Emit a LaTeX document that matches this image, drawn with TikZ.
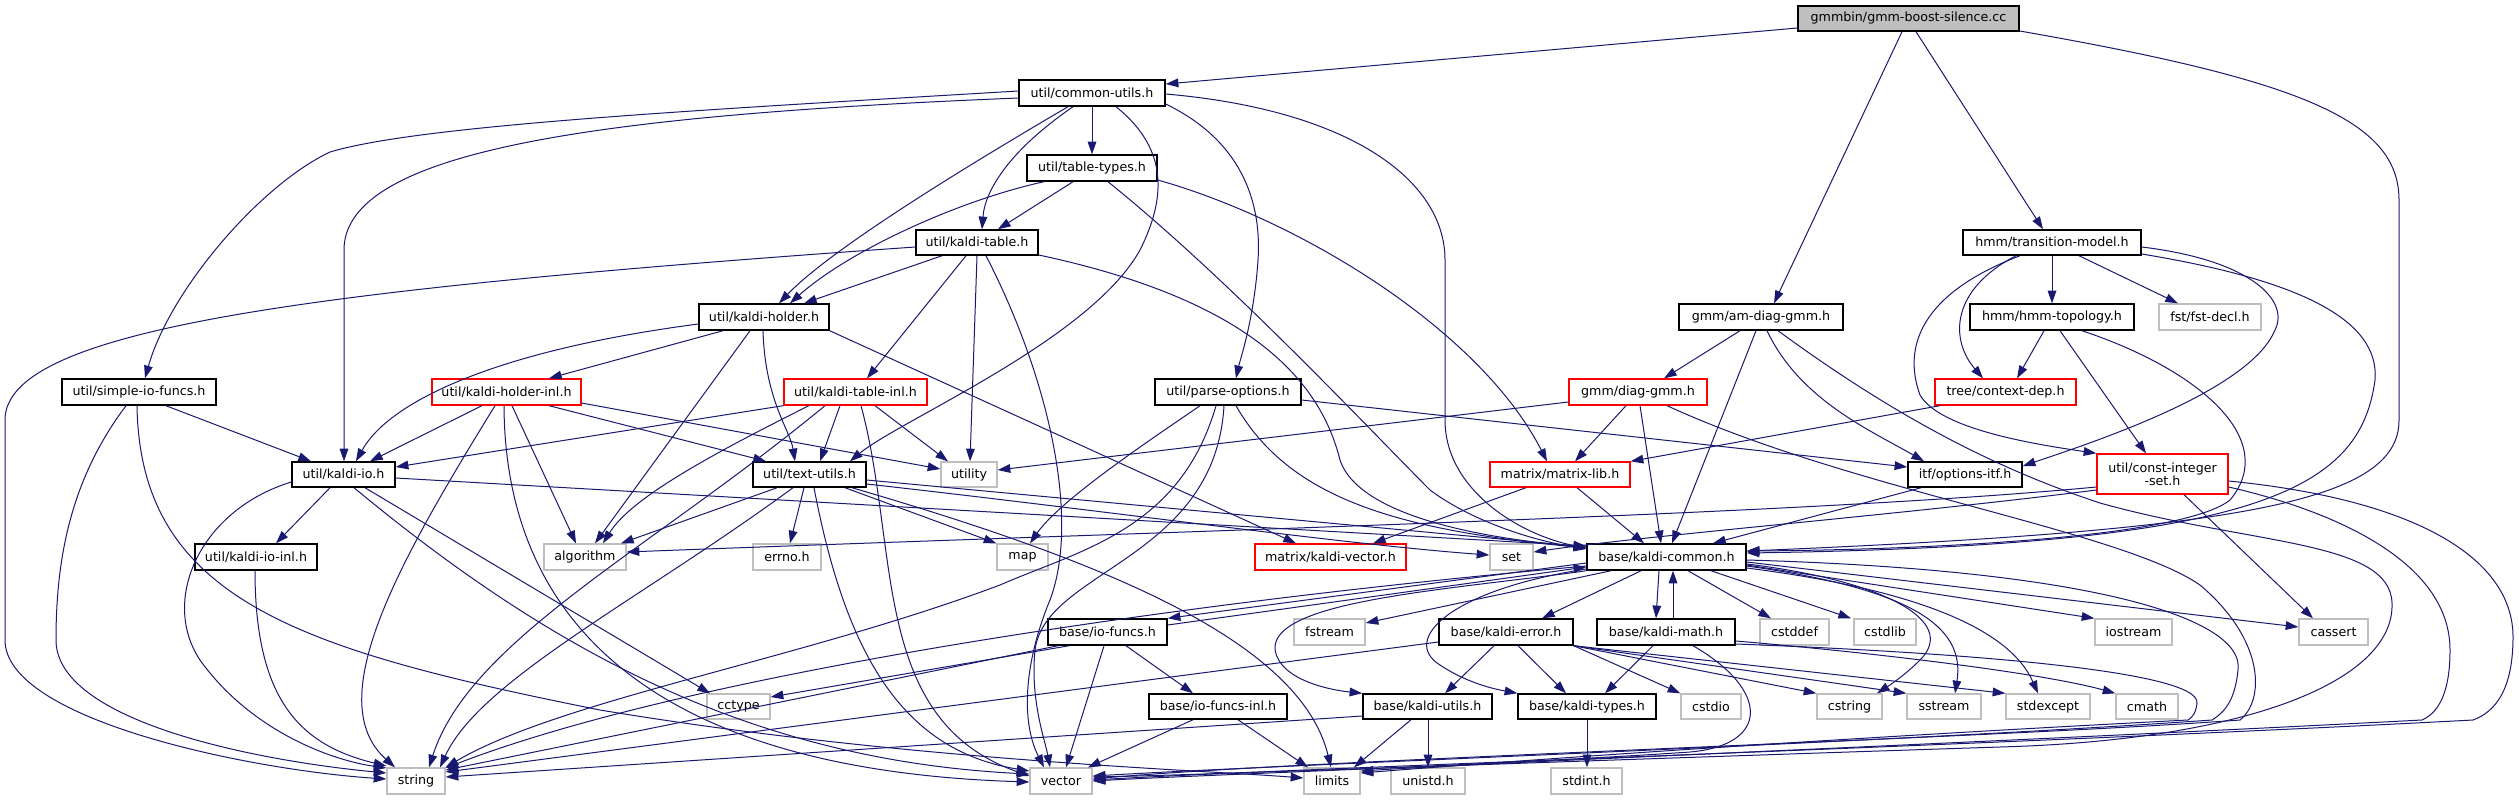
\documentclass[tikz,border=0pt]{standalone}
\usepackage{fontspec}
\setmainfont{DejaVu Sans}
\usetikzlibrary{arrows.meta}
\definecolor{edgec}{HTML}{191970}
\definecolor{sysc}{HTML}{BFBFBF}
\definecolor{rootc}{HTML}{BFBFBF}
\definecolor{truncc}{HTML}{FF0000}
\newcommand\nodefont{\fontsize{9.5}{10}\selectfont}
\newcommand\mkbox[7]{\node[#6, minimum width={(#4-#2)*0.75pt}, minimum height={(#5-#3)*0.75pt}] (#1) at ({(#2+#4)/2},{(#3+#5)/2}) {#7};}
\tikzset{
  nbase/.style={rectangle, inner sep=0pt, font=\nodefont, fill=white, align=center},
  blk/.style={nbase, draw=black, line width=1.1pt},
  root/.style={blk, fill=rootc},
  sys/.style={nbase, draw=sysc, line width=1pt},
  trunc/.style={nbase, draw=truncc, line width=1pt},
  ed/.style={draw=edgec, line width=0.75pt, -{Triangle[length=9.5pt,width=6.5pt]}}
}
\begin{document}
\begin{tikzpicture}[x=0.75pt,y=-0.75pt]
\fill[white] (0,0) rectangle (2519,800);
\useasboundingbox (0,0) rectangle (2519,800);
% nodes
\mkbox{gb}{1798}{6}{2019}{31}{root}{gmmbin/gmm-boost-silence.cc}
\mkbox{cu}{1019}{80}{1165}{106}{blk}{util/common-utils.h}
\mkbox{tt}{1027}{155}{1157}{181}{blk}{util/table-types.h}
\mkbox{kt}{916}{230}{1038}{255}{blk}{util/kaldi-table.h}
\mkbox{tm}{1963}{230}{2141}{255}{blk}{hmm/transition-model.h}
\mkbox{kh}{699}{304}{829}{330}{blk}{util/kaldi-holder.h}
\mkbox{adg}{1679}{304}{1843}{330}{blk}{gmm/am-diag-gmm.h}
\mkbox{ht}{1970}{304}{2134}{330}{blk}{hmm/hmm-topology.h}
\mkbox{fd}{2159}{304}{2261}{330}{sys}{fst/fst-decl.h}
\mkbox{sio}{62}{379}{216}{405}{blk}{util/simple-io-funcs.h}
\mkbox{khi}{432}{379}{581}{405}{trunc}{util/kaldi-holder-inl.h}
\mkbox{kti}{784}{379}{927}{405}{trunc}{util/kaldi-table-inl.h}
\mkbox{po}{1155}{379}{1301}{405}{blk}{util/parse-options.h}
\mkbox{dg}{1569}{379}{1707}{405}{trunc}{gmm/diag-gmm.h}
\mkbox{cd}{1935}{379}{2076}{405}{trunc}{tree/context-dep.h}
\mkbox{kio}{292}{462}{395}{487}{blk}{util/kaldi-io.h}
\mkbox{tu}{753}{462}{866}{487}{blk}{util/text-utils.h}
\mkbox{ut}{941}{462}{997}{487}{sys}{utility}
\mkbox{ml}{1490}{462}{1630}{487}{trunc}{matrix/matrix-lib.h}
\mkbox{oi}{1908}{462}{2022}{487}{blk}{itf/options-itf.h}
\mkbox{cis}{2097}{454}{2228}{494}{trunc}{util/const-integer\\-set.h}
\mkbox{kioi}{195}{544}{317}{570}{blk}{util/kaldi-io-inl.h}
\mkbox{alg}{544}{544}{626}{570}{sys}{algorithm}
\mkbox{err}{753}{544}{821}{570}{sys}{errno.h}
\mkbox{map}{997}{544}{1048}{570}{sys}{map}
\mkbox{kv}{1255}{544}{1406}{570}{trunc}{matrix/kaldi-vector.h}
\mkbox{set}{1490}{544}{1533}{570}{sys}{set}
\mkbox{kc}{1587}{544}{1746}{570}{blk}{base/kaldi-common.h}
\mkbox{iof}{1048}{619}{1167}{645}{blk}{base/io-funcs.h}
\mkbox{fs}{1294}{619}{1365}{645}{sys}{fstream}
\mkbox{ke}{1439}{619}{1573}{645}{blk}{base/kaldi-error.h}
\mkbox{km}{1597}{619}{1735}{645}{blk}{base/kaldi-math.h}
\mkbox{cdf}{1760}{619}{1829}{645}{sys}{cstddef}
\mkbox{csl}{1854}{619}{1916}{645}{sys}{cstdlib}
\mkbox{ios}{2095}{619}{2172}{645}{sys}{iostream}
\mkbox{cas}{2299}{619}{2368}{645}{sys}{cassert}
\mkbox{cct}{707}{694}{770}{719}{sys}{cctype}
\mkbox{iofi}{1149}{694}{1287}{719}{blk}{base/io-funcs-inl.h}
\mkbox{ku}{1363}{694}{1492}{719}{blk}{base/kaldi-utils.h}
\mkbox{kty}{1518}{694}{1656}{719}{blk}{base/kaldi-types.h}
\mkbox{cio}{1681}{694}{1741}{719}{sys}{cstdio}
\mkbox{cst}{1817}{694}{1882}{719}{sys}{cstring}
\mkbox{sst}{1907}{694}{1981}{719}{sys}{sstream}
\mkbox{sex}{2006}{694}{2090}{719}{sys}{stdexcept}
\mkbox{cm}{2116}{694}{2178}{719}{sys}{cmath}
\mkbox{str}{387}{768}{445}{794}{sys}{string}
\mkbox{vec}{1030}{768}{1092}{794}{sys}{vector}
\mkbox{lim}{1304}{768}{1360}{794}{sys}{limits}
\mkbox{uni}{1391}{768}{1465}{794}{sys}{unistd.h}
\mkbox{sti}{1551}{768}{1622}{794}{sys}{stdint.h}
% root edges
\draw[ed] (gb.west |- 0,28) -- (cu.east |- 0,84);
\draw[ed] (gb.south -| 1902,0) -- (adg.north -| 1774,0);
\draw[ed] (gb.south -| 1916,0) -- (tm.north -| 2043,0);
\draw[ed] (gb.east |- 0,31) .. controls (2300,80) and (2399,120) .. (2399,200) -- (2399,420) .. controls (2399,500) and (2250,530) .. (kc.east |- 0,551);
% common-utils
\draw[ed] (cu.west |- 0,91) .. controls (700,110) and (420,125) .. (330,152) .. controls (260,185) and (170,290) .. (sio.north -| 145,0);
\draw[ed] (cu.west |- 0,98) .. controls (600,115) and (344,150) .. (344,250) -- (kio.north -| 344,0);
\draw[ed] (cu.south -| 1068,0) .. controls (960,170) and (830,250) .. (kh.north -| 779,0);
\draw[ed] (cu.south -| 1092,0) -- (tt.north -| 1092,0);
\draw[ed] (cu.south -| 1073,0) .. controls (1010,150) and (985,190) .. (kt.north -| 982,0);
\draw[ed] (cu.south -| 1116,0) .. controls (1170,150) and (1165,200) .. (1140,250) .. controls (1090,340) and (900,420) .. (tu.north -| 850,0);
\draw[ed] (cu.east |- 0,104) .. controls (1240,140) and (1262,200) .. (1258,260) .. controls (1254,320) and (1240,360) .. (po.north -| 1236,0);
\draw[ed] (cu.east |- 0,94) .. controls (1350,110) and (1445,180) .. (1445,260) -- (1445,420) .. controls (1445,490) and (1520,535) .. (kc.west |- 0,548);
% table-types
\draw[ed] (tt.south -| 1044,0) .. controls (960,200) and (850,250) .. (kh.north -| 790,0);
\draw[ed] (tt.south -| 1073,0) -- (kt.north -| 998,0);
\draw[ed] (tt.south -| 1108,0) .. controls (1230,280) and (1370,430) .. (1430,490) .. controls (1470,520) and (1530,540) .. (kc.west |- 0,549);
\draw[ed] (tt.east |- 0,180) .. controls (1300,220) and (1480,330) .. (ml.north -| 1547,0);
% kaldi-table
\draw[ed] (kt.west |- 0,247) .. controls (300,290) and (5,330) .. (5,420) -- (5,640) .. controls (5,720) and (250,770) .. (str.west |- 0,779);
\draw[ed] (kt.south -| 942,0) -- (kh.north -| 804,0);
\draw[ed] (kt.south -| 966,0) -- (kti.north -| 867,0);
\draw[ed] (kt.south -| 977,0) -- (ut.north -| 970,0);
\draw[ed] (kt.south -| 986,0) .. controls (1050,380) and (1080,520) .. (1050,600) .. controls (1025,660) and (1020,720) .. (vec.north -| 1044,0);
\draw[ed] (kt.east |- 0,255) .. controls (1250,300) and (1320,380) .. (1340,460) .. controls (1360,520) and (1500,540) .. (kc.west |- 0,547);
% transition-model
\draw[ed] (tm.south -| 2020,0) .. controls (1930,290) and (1900,340) .. (1920,395) .. controls (1940,430) and (2040,445) .. (cis.north west);
\draw[ed] (tm.south -| 2016,0) .. controls (1950,290) and (1950,340) .. (cd.north -| 1983,0);
\draw[ed] (tm.south -| 2052,0) -- (ht.north -| 2052,0);
\draw[ed] (tm.south -| 2079,0) -- (fd.north -| 2178,0);
\draw[ed] (tm.east |- 0,247) .. controls (2250,260) and (2290,300) .. (2275,330) .. controls (2250,390) and (2100,440) .. (oi.east |- 0,466);
\draw[ed] (tm.east |- 0,254) .. controls (2300,280) and (2380,320) .. (2375,380) .. controls (2360,490) and (2260,545) .. (kc.east |- 0,553);
% hmm-topology
\draw[ed] (ht.south -| 2044,0) -- (cd.north -| 2017,0);
\draw[ed] (ht.south -| 2060,0) -- (cis.north -| 2146,0);
\draw[ed] (ht.south -| 2082,0) .. controls (2200,370) and (2280,440) .. (2230,500) .. controls (2180,540) and (1900,550) .. (kc.east |- 0,551);
% am-diag-gmm
\draw[ed] (adg.south -| 1740,0) -- (dg.north -| 1664,0);
\draw[ed] (adg.south -| 1756,0) -- (kc.north -| 1672,0);
\draw[ed] (adg.south -| 1767,0) .. controls (1800,400) and (1870,430) .. (oi.north -| 1924,0);
\draw[ed] (adg.south -| 1778,0) .. controls (1900,420) and (2000,470) .. (2100,503) .. controls (2250,545) and (2390,540) .. (2392,603) .. controls (2395,680) and (2250,740) .. (2000,747) .. controls (1600,760) and (1200,775) .. (vec.east |- 0,777);
% diag-gmm
\draw[ed] (dg.west |- 0,402) -- (ut.east |- 0,470);
\draw[ed] (dg.south -| 1626,0) -- (ml.north -| 1575,0);
\draw[ed] (dg.south -| 1640,0) -- (kc.north -| 1661,0);
\draw[ed] (dg.south -| 1667,0) .. controls (1850,490) and (2120,530) .. (2200,585) .. controls (2265,640) and (2265,700) .. (2240,720) .. controls (2000,738) and (1300,760) .. (vec.east |- 0,779);
% context-dep
\draw[ed] (cd.south -| 1940,0) -- (ml.north east);
% parse-options
\draw[ed] (po.south -| 1200,0) .. controls (1150,440) and (1060,500) .. (map.north -| 1030,0);
\draw[ed] (po.south -| 1216,0) .. controls (1180,530) and (1080,550) .. (1000,585) .. controls (800,660) and (560,700) .. (str.north east);
\draw[ed] (po.south -| 1224,0) .. controls (1215,560) and (1045,570) .. (1035,650) .. controls (1030,700) and (1045,740) .. (vec.north -| 1050,0);
\draw[ed] (po.south -| 1236,0) .. controls (1290,500) and (1400,530) .. (kc.west |- 0,548);
\draw[ed] (po.east |- 0,400) -- (oi.west |- 0,467);
% kaldi-holder
\draw[ed] (kh.west |- 0,324) .. controls (500,350) and (390,400) .. (kio.north -| 356,0);
\draw[ed] (kh.south -| 723,0) -- (khi.north -| 549,0);
\draw[ed] (kh.south -| 750,0) -- (alg.north -| 595,0);
\draw[ed] (kh.south -| 763,0) .. controls (765,400) and (790,430) .. (tu.north -| 795,0);
\draw[ed] (kh.south east) -- (kv.north -| 1296,0);
% simple-io-funcs
\draw[ed] (sio.south -| 166,0) -- (kio.north -| 311,0);
\draw[ed] (sio.south -| 126,0) .. controls (70,480) and (56,560) .. (56,640) .. controls (56,720) and (250,760) .. (str.west |- 0,773);
\draw[ed] (sio.south -| 137,0) .. controls (140,600) and (300,650) .. (600,710) .. controls (900,760) and (1200,770) .. (lim.west |- 0,778);
% kaldi-holder-inl
\draw[ed] (khi.south -| 482,0) -- (kio.north -| 370,0);
\draw[ed] (khi.south -| 495,0) .. controls (400,560) and (320,700) .. (str.north -| 395,0);
\draw[ed] (khi.south -| 504,0) .. controls (505,620) and (650,770) .. (vec.west |- 0,782);
\draw[ed] (khi.south -| 512,0) -- (alg.north -| 576,0);
\draw[ed] (khi.south -| 549,0) -- (tu.north -| 766,0);
\draw[ed] (khi.east |- 0,403) -- (ut.west |- 0,469);
% kaldi-table-inl
\draw[ed] (kti.south west) -- (kio.east |- 0,467);
\draw[ed] (kti.south -| 809,0) .. controls (700,460) and (630,500) .. (alg.north -| 603,0);
\draw[ed] (kti.south -| 825,0) .. controls (650,550) and (470,640) .. (str.north -| 429,0);
\draw[ed] (kti.south -| 840,0) -- (tu.north -| 820,0);
\draw[ed] (kti.south -| 875,0) -- (ut.north -| 948,0);
\draw[ed] (kti.south -| 861,0) .. controls (900,550) and (870,720) .. (vec.west |- 0,776);
% kaldi-io
\draw[ed] (kio.south -| 330,0) -- (kioi.north -| 276,0);
\draw[ed] (kio.west |- 0,482) .. controls (200,510) and (160,600) .. (200,660) .. controls (250,730) and (330,760) .. (str.west |- 0,768);
\draw[ed] (kio.south -| 365,0) -- (cct.north -| 710,0);
\draw[ed] (kio.south -| 354,0) .. controls (550,650) and (750,760) .. (vec.west |- 0,774);
\draw[ed] (kio.east |- 0,478) -- (kc.west |- 0,546);
% kaldi-io-inl
\draw[ed] (kioi.south -| 255,0) .. controls (255,700) and (300,745) .. (str.west |- 0,766);
% text-utils
\draw[ed] (tu.south -| 777,0) -- (alg.north -| 621,0);
\draw[ed] (tu.south -| 804,0) -- (err.north -| 790,0);
\draw[ed] (tu.south -| 793,0) .. controls (640,600) and (480,680) .. (str.north -| 440,0);
\draw[ed] (tu.south -| 814,0) .. controls (845,650) and (900,750) .. (vec.west |- 0,771);
\draw[ed] (tu.south -| 845,0) -- (map.north west);
\draw[ed] (tu.east |- 0,484) .. controls (1100,510) and (1350,545) .. (set.west |- 0,555);
\draw[ed] (tu.east |- 0,480) -- (kc.west |- 0,547);
\draw[ed] (tu.south -| 852,0) .. controls (1100,560) and (1300,640) .. (lim.north -| 1331,0);
% matrix-lib
\draw[ed] (ml.south -| 1526,0) -- (kv.north -| 1373,0);
\draw[ed] (ml.south -| 1577,0) -- (kc.north -| 1644,0);
% options-itf
\draw[ed] (oi.south -| 1921,0) -- (kc.north -| 1713,0);
% const-integer-set
\draw[ed] (cis.south -| 2184,0) -- (cas.north -| 2313,0);
\draw[ed] (cis.west |- 0,487) .. controls (1800,515) and (1200,530) .. (alg.east |- 0,552);
\draw[ed] (cis.west |- 0,490) .. controls (1900,515) and (1650,535) .. (set.east |- 0,552);
\draw[ed] (cis.east |- 0,481) .. controls (2420,500) and (2513,560) .. (2513,637) .. controls (2513,690) and (2495,712) .. (2473,720) .. controls (2000,745) and (1300,768) .. (vec.east |- 0,780);
\draw[ed] (cis.east |- 0,487) .. controls (2330,510) and (2450,560) .. (2450,650) .. controls (2450,690) and (2440,712) .. (2422,720) .. controls (2000,742) and (1500,762) .. (lim.east |- 0,771);
% kaldi-common
\draw[ed] (kc.south -| 1641,0) -- (ke.north -| 1542,0);
\draw[ed] (kc.south -| 1659,0) -- (km.north -| 1656,0);
\draw[ed] (km.north -| 1673,0) -- (kc.south -| 1673,0);
\draw[ed] (kc.south -| 1688,0) -- (cdf.north -| 1771,0);
\draw[ed] (kc.south -| 1711,0) -- (csl.north -| 1851,0);
\draw[ed] (kc.east |- 0,565) -- (ios.north west);
\draw[ed] (kc.east |- 0,562) -- (cas.west |- 0,627);
\draw[ed] (kc.east |- 0,564) .. controls (1880,580) and (1960,620) .. (1920,660) .. controls (1905,675) and (1890,685) .. (cst.north -| 1877,0);
\draw[ed] (kc.east |- 0,566) .. controls (1920,590) and (1965,630) .. (sst.north -| 1955,0);
\draw[ed] (kc.east |- 0,568) .. controls (1920,590) and (2010,630) .. (sex.north -| 2038,0);
\draw[ed] (kc.east |- 0,560) .. controls (2100,570) and (2245,620) .. (2238,670) .. controls (2235,700) and (2225,712) .. (2212,720) .. controls (1900,742) and (1300,764) .. (vec.east |- 0,776);
\draw[ed] (kc.south -| 1611,0) -- (fs.east |- 0,623);
\draw[ed] (kc.west |- 0,563) -- (iof.north east);
\draw[ed] (iof.east |- 0,625) -- (kc.west |- 0,567);
\draw[ed] (kc.west |- 0,566) .. controls (1200,600) and (700,670) .. (str.east |- 0,768);
\draw[ed] (kc.south west) .. controls (1450,590) and (1270,600) .. (1275,650) .. controls (1280,680) and (1330,690) .. (ku.north west);
\draw[ed] (kc.west |- 0,569) .. controls (1450,590) and (1400,640) .. (1440,665) .. controls (1470,685) and (1500,690) .. (kty.north west);
% io-funcs
\draw[ed] (iof.south -| 1069,0) -- (cct.east |- 0,697);
\draw[ed] (iof.south -| 1058,0) -- (str.east |- 0,770);
\draw[ed] (iof.south -| 1104,0) -- (vec.north -| 1066,0);
\draw[ed] (iof.south -| 1126,0) -- (iofi.north -| 1193,0);
% io-funcs-inl
\draw[ed] (iofi.south -| 1193,0) -- (vec.north -| 1088,0);
\draw[ed] (iofi.south -| 1238,0) -- (lim.north -| 1308,0);
% kaldi-error
\draw[ed] (ke.south -| 1494,0) -- (ku.north -| 1445,0);
\draw[ed] (ke.south -| 1518,0) -- (kty.north -| 1566,0);
\draw[ed] (ke.south east) -- (cio.north west);
\draw[ed] (ke.south east) -- (cst.north west);
\draw[ed] (ke.south east) -- (sst.north west);
\draw[ed] (ke.south east) -- (sex.north west);
\draw[ed] (ke.west |- 0,642) -- (str.east |- 0,772);
% kaldi-math
\draw[ed] (km.south -| 1653,0) -- (kty.north -| 1605,0);
\draw[ed] (km.east |- 0,641) .. controls (1900,655) and (2050,675) .. (cm.north west);
\draw[ed] (km.south -| 1693,0) .. controls (1770,690) and (1770,745) .. (1690,752) .. controls (1500,765) and (1200,775) .. (vec.east |- 0,781);
\draw[ed] (km.east |- 0,644) .. controls (1950,652) and (2200,670) .. (2197,703) .. controls (2196,712) and (2193,717) .. (2188,720) .. controls (1800,740) and (1500,762) .. (lim.east |- 0,773);
% kaldi-utils
\draw[ed] (ku.west |- 0,716) -- (str.east |- 0,777);
\draw[ed] (ku.south -| 1411,0) -- (lim.north -| 1354,0);
\draw[ed] (ku.south -| 1428,0) -- (uni.north -| 1428,0);
% kaldi-types
\draw[ed] (kty.south -| 1587,0) -- (sti.north -| 1587,0);
\end{tikzpicture}
\end{document}
